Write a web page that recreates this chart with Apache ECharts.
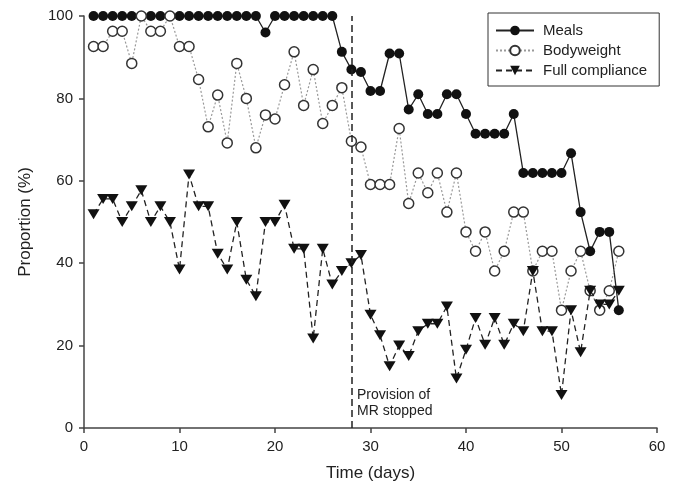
<!DOCTYPE html>
<html>
<head>
<meta charset="utf-8">
<script src="https://cdn.jsdelivr.net/npm/echarts@6/dist/echarts.min.js"></script>
<style>
  html, body { margin: 0; padding: 0; background: #fff; }
  #chart { width: 675px; height: 490px; }
</style>
</head>
<body>
<div id="chart"></div>
<script>
const days = [1, 2, 3, 4, 5, 6, 7, 8, 9, 10, 11, 12, 13, 14, 15, 16, 17, 18, 19, 20,
    21, 22, 23, 24, 25, 26, 27, 28, 29, 30, 31, 32, 33, 34, 35, 36, 37, 38, 39, 40,
    41, 42, 43, 44, 45, 46, 47, 48, 49, 50, 51, 52, 53, 54, 55, 56]

const meals = [100, 100, 100, 100, 100, 100, 100, 100, 100, 100, 100, 100, 100, 100, 100, 100, 100, 100, 96, 100,
    100, 100, 100, 100, 100, 100, 91.3, 87, 86.4, 81.8, 81.8, 90.9, 90.9, 77.3, 81, 76.2, 76.2, 81, 81, 76.2,
    71.4, 71.4, 71.4, 71.4, 76.2, 61.9, 61.9, 61.9, 61.9, 61.9, 66.7, 52.4, 42.9, 47.6, 47.6, 28.6]

const bodyweight = [92.6, 92.6, 96.3, 96.3, 88.5, 100, 96.3, 96.3, 100, 92.6, 92.6, 84.6, 73.1, 80.8, 69.2, 88.5, 80, 68, 76, 75,
    83.3, 91.3, 78.3, 87, 73.9, 78.3, 82.6, 69.6, 68.2, 59.1, 59.1, 59.1, 72.7, 54.5, 61.9, 57.1, 61.9, 52.4, 61.9, 47.6,
    42.9, 47.6, 38.1, 42.9, 52.4, 52.4, 38.1, 42.9, 42.9, 28.6, 38.1, 42.9, 33.3, 28.6, 33.3, 42.9]

const compliance = [51.9, 55.6, 55.6, 50, 53.8, 57.7, 50, 53.8, 50, 38.5, 61.5, 53.8, 53.8, 42.3, 38.5, 50, 36, 32, 50, 50,
    54.2, 43.5, 43.5, 21.7, 43.5, 34.8, 38.1, 40, 42, 27.5, 22.5, 15, 20, 17.5, 23.5, 25.3, 25.3, 29.5, 12, 19,
    26.7, 20.2, 26.7, 20.2, 25.3, 23.5, 38.1, 23.5, 23.5, 8, 28.6, 18.4, 33.3, 30, 30, 33.3]

const xTicks = [0, 10, 20, 30, 40, 50, 60]
const yTicks = [0, 20, 40, 60, 80, 100]
const stopDay = 28

function pairs(values) {
    return days.map((d, i) => [d, values[i]])
}

const FONT = 'Liberation Sans'
const TEXT = '#222'
const AXIS = '#444'

var dom = document.getElementById('chart')
var myChart = echarts.init(dom, null, { renderer: 'canvas' })

var option = {
    animation: false,
    backgroundColor: '#fff',
    textStyle: { fontFamily: FONT, color: TEXT },
    grid: { left: 84, right: 18, top: 16, bottom: 62 },
    legend: {
        orient: 'vertical',
        left: 488,
        top: 13,
        padding: [10, 12, 8, 7],
        itemWidth: 38,
        itemHeight: 12,
        itemGap: 5,
        borderColor: '#333',
        borderWidth: 1,
        textStyle: { fontFamily: FONT, fontSize: 15, color: TEXT, padding: [0, 0, 0, 4] },
        data: ['Meals', 'Bodyweight', 'Full compliance']
    },
    xAxis: {
        type: 'value',
        min: xTicks[0],
        max: xTicks[xTicks.length - 1],
        interval: 10,
        name: 'Time (days)',
        nameLocation: 'middle',
        nameGap: 37,
        nameTextStyle: { fontFamily: FONT, fontSize: 17, color: TEXT },
        axisLine: { lineStyle: { color: AXIS, width: 1.5 } },
        axisTick: { length: 5, lineStyle: { color: AXIS, width: 1.5 } },
        axisLabel: { fontFamily: FONT, fontSize: 15, color: TEXT, margin: 11 },
        splitLine: { show: false }
    },
    yAxis: {
        type: 'value',
        min: yTicks[0],
        max: yTicks[yTicks.length - 1],
        interval: 20,
        name: 'Proportion (%)',
        nameLocation: 'middle',
        nameGap: 50,
        nameTextStyle: { fontFamily: FONT, fontSize: 17, color: TEXT },
        axisLine: { show: true, lineStyle: { color: AXIS, width: 1.5 } },
        axisTick: { show: true, length: 5, lineStyle: { color: AXIS, width: 1.5 } },
        axisLabel: { fontFamily: FONT, fontSize: 15, color: TEXT, margin: 11 },
        splitLine: { show: false }
    },
    series: [
        {
            name: 'Meals',
            type: 'line',
            data: pairs(meals),
            symbol: 'circle',
            symbolSize: 10,
            itemStyle: { color: '#111' },
            lineStyle: { color: '#222', width: 1.3, type: 'solid' },
            z: 2,
            markLine: {
                silent: true,
                symbol: 'none',
                label: { show: false },
                lineStyle: { color: '#222', width: 1.5, type: [7, 4] },
                data: [[{ coord: [stopDay, 0] }, { coord: [stopDay, 100] }]]
            }
        },
        {
            name: 'Bodyweight',
            type: 'line',
            data: pairs(bodyweight),
            symbol: 'circle',
            symbolSize: 10,
            itemStyle: { color: '#fff', borderColor: '#333', borderWidth: 1.5 },
            lineStyle: { color: '#999', width: 1.2, type: [2, 2] },
            z: 3
        },
        {
            name: 'Full compliance',
            type: 'line',
            data: pairs(compliance),
            symbol: 'triangle',
            symbolRotate: 180,
            symbolSize: [12, 10],
            itemStyle: { color: '#111' },
            lineStyle: { color: '#222', width: 1.3, type: [6, 4] },
            z: 4
        }
    ],
    graphic: [
        {
            type: 'text',
            left: 357,
            top: 387,
            style: {
                text: 'Provision of\nMR stopped',
                font: '14px "Liberation Sans"',
                fill: TEXT,
                lineHeight: 16
            }
        }
    ]
}

option && myChart.setOption(option)
window.addEventListener('resize', myChart.resize)
</script>
</body>
</html>
